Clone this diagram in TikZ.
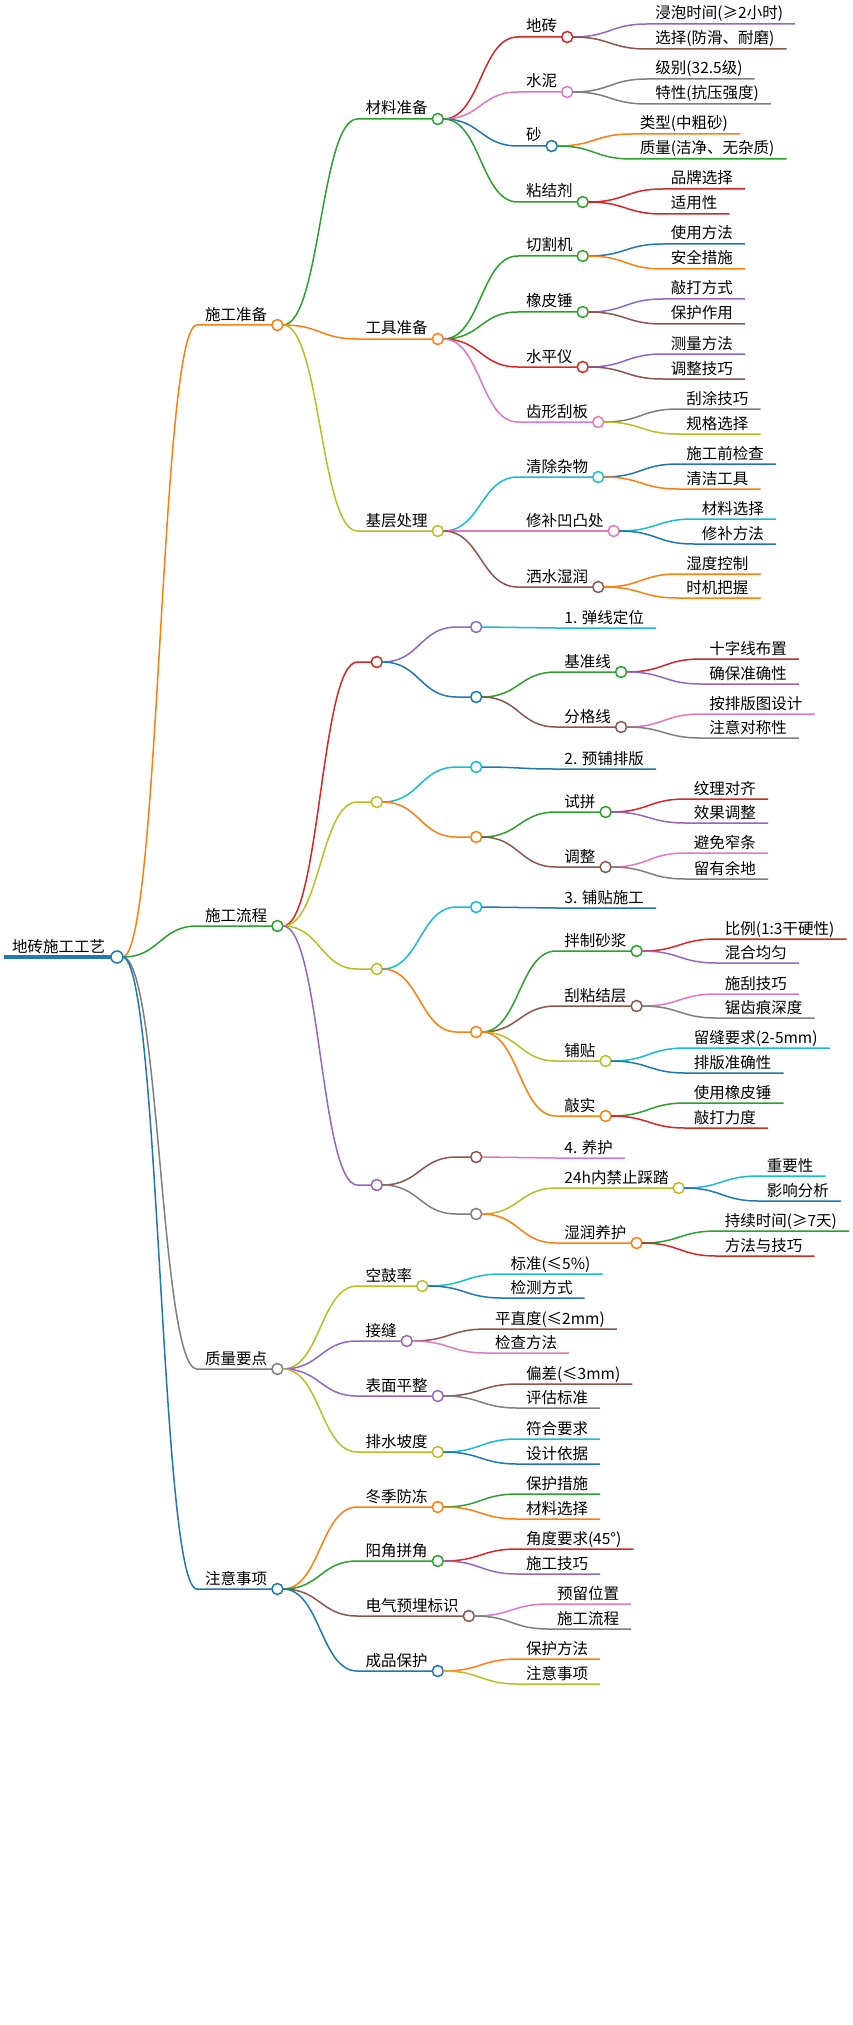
\documentclass[tikz,border=0pt]{standalone}
\usepackage{fontspec}
\newfontfamily\cjk{Noto Sans CJK SC}
\usetikzlibrary{calc}
\definecolor{cbl}{HTML}{1F77B4}\definecolor{cor}{HTML}{FF7F0E}\definecolor{cgr}{HTML}{2CA02C}
\definecolor{cre}{HTML}{D62728}\definecolor{cpu}{HTML}{9467BD}\definecolor{cbr}{HTML}{8C564B}
\definecolor{cpk}{HTML}{E377C2}\definecolor{cgy}{HTML}{7F7F7F}\definecolor{col}{HTML}{BCBD22}
\definecolor{ccy}{HTML}{17BECF}
\tikzset{lbl/.style={anchor=base west,inner sep=0,font=\cjk\fontsize{15.5}{16}\selectfont},
 edge/.style={line width=1.5pt}}
\newcommand\MN[5]{%
 \path let \p1=(#2-c) in coordinate (#1-s) at (\x1+80,-#3);
 \node[lbl] (#1) at ([xshift=8,yshift=5]#1-s) {#4};
 \path let \p1=(#1.east) in coordinate (#1-c) at (\x1+10,-#3);
 \draw[#5,edge] ([xshift=5.5]#2-c) .. controls ([xshift=43]#2-c) and ([xshift=-37]#1-s) .. (#1-s) -- ([xshift=-5.5]#1-c);
 \draw[#5,line width=1.5pt,fill=white] (#1-c) circle (5.5);}
\newcommand\ML[5]{%
 \path let \p1=(#2-c) in coordinate (#1-s) at (\x1+80,-#3);
 \node[lbl] (#1) at ([xshift=8,yshift=5]#1-s) {#4};
 \path let \p1=(#1.east) in coordinate (#1-e) at (\x1+12,-#3);
 \draw[#5,edge] ([xshift=5.5]#2-c) .. controls ([xshift=43]#2-c) and ([xshift=-37]#1-s) .. (#1-s) -- (#1-e);
 \draw[#2-col,edge] (0,0);}
\begin{document}
\begin{tikzpicture}[x=1pt,y=1pt]
\useasboundingbox (0,0) rectangle (852,-2025);
\fill[white] (0,0) rectangle (852,-2025);
\coordinate (root-c) at (117,-957);
\coordinate (root-s) at (4,-957);
\node[lbl] (root) at (12,-952) {地砖施工工艺};
\colorlet{root-col}{cbl}
\renewcommand\ML[5]{%
 \path let \p1=(#2-c) in coordinate (#1-s) at (\x1+80,-#3);
 \node[lbl] (#1) at ([xshift=8,yshift=5]#1-s) {#4};
 \path let \p1=(#1.east) in coordinate (#1-e) at (\x1+12,-#3);
 \draw[#5,edge] ([xshift=5.5]#2-c) .. controls ([xshift=43]#2-c) and ([xshift=-37]#1-s) .. (#1-s) -- (#1-e);}
% level 1
\MN{p}{root}{325}{施工准备}{cor}
\MN{f}{root}{926}{施工流程}{cgr}
\MN{q}{root}{1369}{质量要点}{cgy}
\MN{z}{root}{1589}{注意事项}{cbl}
\draw[cbl,line width=4pt] (root-s) -- ([xshift=-5.5]root-c);
\draw[cbl,line width=1.5pt,fill=white] (root-c) circle (6);
% 施工准备
\MN{pa}{p}{119}{材料准备}{cgr}
\MN{pb}{p}{339}{工具准备}{cor}
\MN{pc}{p}{531}{基层处理}{col}
\MN{pa1}{pa}{37}{地砖}{cre}
\MN{pa2}{pa}{92}{水泥}{cpk}
\MN{pa3}{pa}{146}{砂}{cbl}
\MN{pa4}{pa}{202}{粘结剂}{cgr}
\ML{l1}{pa1}{24}{浸泡时间(≥2小时)}{cpu}
\ML{l2}{pa1}{49}{选择(防滑、耐磨)}{cbr}
\ML{l3}{pa2}{79}{级别(32.5级)}{cgy}
\ML{l4}{pa2}{104}{特性(抗压强度)}{cgy}
\ML{l5}{pa3}{134}{类型(中粗砂)}{cor}
\ML{l6}{pa3}{159}{质量(洁净、无杂质)}{cgr}
\ML{l7}{pa4}{189}{品牌选择}{cre}
\ML{l8}{pa4}{214}{适用性}{cre}
\MN{pb1}{pb}{256}{切割机}{cgr}
\MN{pb2}{pb}{312}{橡皮锤}{cgr}
\MN{pb3}{pb}{367}{水平仪}{cre}
\MN{pb4}{pb}{422}{齿形刮板}{cpk}
\ML{l9}{pb1}{244}{使用方法}{cbl}
\ML{l10}{pb1}{269}{安全措施}{cor}
\ML{l11}{pb2}{299}{敲打方式}{cpu}
\ML{l12}{pb2}{324}{保护作用}{cbr}
\ML{l13}{pb3}{354}{测量方法}{cpu}
\ML{l14}{pb3}{379}{调整技巧}{cbr}
\ML{l15}{pb4}{409}{刮涂技巧}{cgy}
\ML{l16}{pb4}{434}{规格选择}{col}
\MN{pc1}{pc}{477}{清除杂物}{ccy}
\MN{pc2}{pc}{531}{修补凹凸处}{cpk}
\MN{pc3}{pc}{587}{洒水湿润}{cbr}
\ML{l17}{pc1}{464}{施工前检查}{cbl}
\ML{l18}{pc1}{489}{清洁工具}{cor}
\ML{l19}{pc2}{519}{材料选择}{ccy}
\ML{l20}{pc2}{544}{修补方法}{cbl}
\ML{l21}{pc3}{574}{湿度控制}{cor}
\ML{l22}{pc3}{598}{时机把握}{cor}
% 施工流程
\MN{fa}{f}{662}{}{cre}
\MN{fb}{f}{802}{}{col}
\MN{fc}{f}{969}{}{col}
\MN{fd}{f}{1185}{}{cpu}
\MN{fa1}{fa}{627}{}{cpu}
\ML{m1}{fa1}{628}{1. 弹线定位}{ccy}
\MN{fa2}{fa}{697}{}{cbl}
\MN{fa21}{fa2}{672}{基准线}{cgr}
\MN{fa22}{fa2}{727}{分格线}{cbr}
\ML{m2}{fa21}{659}{十字线布置}{cre}
\ML{m3}{fa21}{684}{确保准确性}{cpu}
\ML{m4}{fa22}{714}{按排版图设计}{cpk}
\ML{m5}{fa22}{738}{注意对称性}{cgy}
\MN{fb1}{fb}{767}{}{ccy}
\ML{m6}{fb1}{769}{2. 预铺排版}{cbl}
\MN{fb2}{fb}{837}{}{cor}
\MN{fb21}{fb2}{812}{试拼}{cgr}
\MN{fb22}{fb2}{867}{调整}{cbr}
\ML{m7}{fb21}{799}{纹理对齐}{cre}
\ML{m8}{fb21}{823}{效果调整}{cpu}
\ML{m9}{fb22}{853}{避免窄条}{cpk}
\ML{m10}{fb22}{879}{留有余地}{cgy}
\MN{fc1}{fc}{907}{}{ccy}
\ML{m11}{fc1}{908}{3. 铺贴施工}{cbl}
\MN{fc2}{fc}{1032}{}{cor}
\MN{fc21}{fc2}{951}{拌制砂浆}{cgr}
\MN{fc22}{fc2}{1006}{刮粘结层}{cbr}
\MN{fc23}{fc2}{1061}{铺贴}{col}
\MN{fc24}{fc2}{1116}{敲实}{cor}
\ML{m12}{fc21}{939}{比例(1:3干硬性)}{cre}
\ML{m13}{fc21}{963}{混合均匀}{cpu}
\ML{m14}{fc22}{994}{施刮技巧}{cpk}
\ML{m15}{fc22}{1018}{锯齿痕深度}{cgy}
\ML{m16}{fc23}{1048}{留缝要求(2-5mm)}{ccy}
\ML{m17}{fc23}{1073}{排版准确性}{cbl}
\ML{m18}{fc24}{1103}{使用橡皮锤}{cgr}
\ML{m19}{fc24}{1128}{敲打力度}{cre}
\MN{fd1}{fd}{1157}{}{cbr}
\ML{m20}{fd1}{1158}{4. 养护}{cpk}
\MN{fd2}{fd}{1214}{}{cgy}
\MN{fd21}{fd2}{1188}{24h内禁止踩踏}{col}
\MN{fd22}{fd2}{1243}{湿润养护}{cor}
\ML{m21}{fd21}{1176}{重要性}{ccy}
\ML{m22}{fd21}{1201}{影响分析}{cbl}
\ML{m23}{fd22}{1231}{持续时间(≥7天)}{cgr}
\ML{m24}{fd22}{1256}{方法与技巧}{cre}
% 质量要点
\MN{q1}{q}{1286}{空鼓率}{col}
\MN{q2}{q}{1341}{接缝}{cpu}
\MN{q3}{q}{1396}{表面平整}{cpu}
\MN{q4}{q}{1452}{排水坡度}{col}
\ML{n1}{q1}{1274}{标准(≤5\%)}{ccy}
\ML{n2}{q1}{1298}{检测方式}{cbl}
\ML{n3}{q2}{1329}{平直度(≤2mm)}{cbr}
\ML{n4}{q2}{1353}{检查方法}{cpk}
\ML{n5}{q3}{1384}{偏差(≤3mm)}{cbr}
\ML{n6}{q3}{1408}{评估标准}{cgy}
\ML{n7}{q4}{1439}{符合要求}{ccy}
\ML{n8}{q4}{1464}{设计依据}{cbl}
% 注意事项
\MN{z1}{z}{1507}{冬季防冻}{cor}
\MN{z2}{z}{1561}{阳角拼角}{cgr}
\MN{z3}{z}{1616}{电气预埋标识}{cbr}
\MN{z4}{z}{1671}{成品保护}{cbl}
\ML{o1}{z1}{1494}{保护措施}{cgr}
\ML{o2}{z1}{1519}{材料选择}{cor}
\ML{o3}{z2}{1549}{角度要求(45°)}{cre}
\ML{o4}{z2}{1574}{施工技巧}{cpu}
\ML{o5}{z3}{1604}{预留位置}{cpk}
\ML{o6}{z3}{1629}{施工流程}{cgy}
\ML{o7}{z4}{1659}{保护方法}{cor}
\ML{o8}{z4}{1684}{注意事项}{col}
\end{tikzpicture}
\end{document}
